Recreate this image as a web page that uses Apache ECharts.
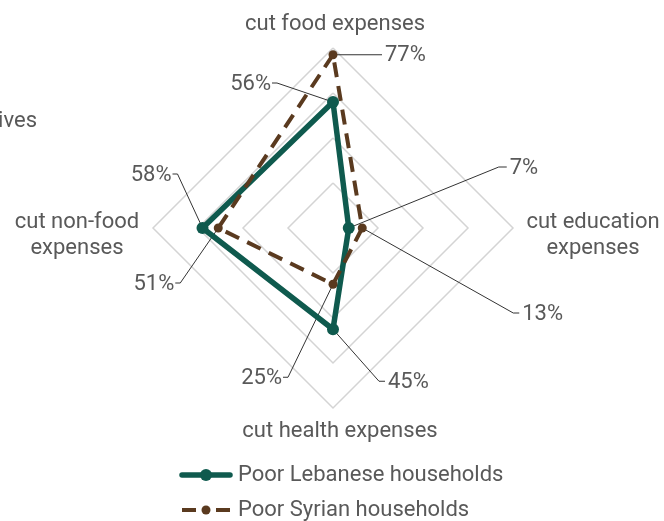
<!DOCTYPE html>
<html>
<head>
<meta charset="utf-8">
<script src="https://cdn.jsdelivr.net/npm/echarts@6/dist/echarts.min.js"></script>
<style>html,body{margin:0;padding:0;background:#fff}#c{width:664px;height:521px}</style>
</head>
<body>
<div id="c"></div>
<script>
// indicators in drawing order (counterclockwise from top)
const indicators = ['cut food expenses', 'cut non-food\nexpenses', 'cut health expenses', 'cut education\nexpenses'];
const indicatorMax = 80;
const lebanese = [56, 58, 45, 7];
const syrian = [77, 51, 25, 13];
const seriesNames = ['Poor Lebanese households', 'Poor Syrian households'];
const clippedLabel = 'relatives';

const GREEN = '#0f5a4e', BROWN = '#5a3a1f', TXT = '#595959';
const FONT = 'Roboto';
const FS = 22;

const chart = echarts.init(document.getElementById('c'));
chart.setOption({
  animation: false,
  textStyle: { fontFamily: FONT },
  radar: {
    center: [333, 228],
    radius: 180,
    startAngle: 90,
    shape: 'polygon',
    splitNumber: 4,
    indicator: indicators.map(n => ({ name: n, max: indicatorMax, min: 0 })),
    axisName: { show: false },
    axisLine: { show: false },
    axisTick: { show: false },
    axisLabel: { show: false },
    splitArea: { show: false },
    splitLine: { lineStyle: { color: '#d4d4d4', width: 1.5 } }
  },
  series: [{
    type: 'radar',
    data: [
      { name: seriesNames[0], value: lebanese,
        symbol: 'circle', symbolSize: 12,
        lineStyle: { color: GREEN, width: 5.5 },
        itemStyle: { color: GREEN } },
      { name: seriesNames[1], value: syrian,
        symbol: 'circle', symbolSize: 9,
        lineStyle: { color: BROWN, width: 4, type: [15, 9] },
        itemStyle: { color: BROWN } }
    ],
    z: 3
  }]
});

// annotations: leader lines + value labels anchored to library-computed points
const cs = chart.getModel().getComponent('radar').coordinateSystem;
// per series, per indicator: [elbow dx, elbow dy, hook dx, text side]
const ann = [
  [[-56, -19, -5, 'right'], [-25, -54, -5, 'right'], [46, 52, 6, 'left'], [150, -61, 8, 'left']],
  [[49, 0, 0, 'left'], [-38, 55, -5, 'right'], [-45, 93, -5, 'right'], [151, 85, 6, 'left']]
];
const allData = [lebanese, syrian];
const graphics = [];
const font = FS + 'px ' + FONT;
allData.forEach((vals, si) => {
  vals.forEach((v, ii) => {
    const p = cs.dataToPoint(v, ii);
    const a = ann[si][ii];
    const e = [p[0] + a[0], p[1] + a[1]];
    const h = [e[0] + a[2], e[1]];
    graphics.push({ type: 'polyline', z: 1, shape: { points: [p, e, h] },
      style: { stroke: '#333', lineWidth: 1, fill: null } });
    const tx = a[3] === 'left' ? h[0] + 3 : h[0] - 1;
    graphics.push({ type: 'text', z: 5, x: tx, y: h[1] + 1,
      style: { text: v + '%', fill: TXT, font: font, textAlign: a[3], textVerticalAlign: 'middle' } });
  });
});
// axis names, placed from the outer tip of each indicator (centre offsets)
const nameOff = [[2, -24], [-76, 7], [7, 23], [80, 7]];
indicators.forEach((n, ii) => {
  const tip = cs.dataToPoint(indicatorMax, ii);
  const o = nameOff[ii];
  graphics.push({ type: 'text', x: tip[0] + o[0], y: tip[1] + o[1],
    style: { text: n, fill: TXT, font: font, textAlign: 'center',
      textVerticalAlign: 'middle', lineHeight: 26 } });
});
graphics.push({ type: 'text', x: 37, y: 121,
  style: { text: clippedLabel, fill: TXT, font: font, textAlign: 'right', textVerticalAlign: 'middle' } });

// legend drawn as line-with-marker keys
const legendX = 182, legendY = [475, 510];
graphics.push({ type: 'line', shape: { x1: legendX, y1: legendY[0], x2: legendX + 48, y2: legendY[0] },
  style: { stroke: GREEN, lineWidth: 5.5, lineCap: 'round' } });
graphics.push({ type: 'circle', shape: { cx: legendX + 24, cy: legendY[0], r: 6 }, style: { fill: GREEN } });
graphics.push({ type: 'line', shape: { x1: legendX, y1: legendY[1], x2: legendX + 14, y2: legendY[1] },
  style: { stroke: BROWN, lineWidth: 4 } });
graphics.push({ type: 'line', shape: { x1: legendX + 34, y1: legendY[1], x2: legendX + 48, y2: legendY[1] },
  style: { stroke: BROWN, lineWidth: 4 } });
graphics.push({ type: 'circle', shape: { cx: legendX + 24, cy: legendY[1], r: 4.5 }, style: { fill: BROWN } });
seriesNames.forEach((n, i) => {
  graphics.push({ type: 'text', x: legendX + 56, y: legendY[i],
    style: { text: n, fill: TXT, font: font, textAlign: 'left', textVerticalAlign: 'middle' } });
});
chart.setOption({ graphic: graphics });
</script>
</body>
</html>
